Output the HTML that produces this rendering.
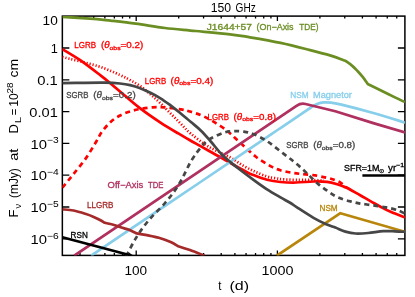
<!DOCTYPE html>
<html><head><meta charset="utf-8"><title>150 GHz</title>
<style>
html,body{margin:0;padding:0;background:#fff;}
body{width:415px;height:297px;overflow:hidden;}
svg{display:block;will-change:transform;}
text{font-family:"Liberation Sans",sans-serif;fill:#000;}
.lb{stroke-width:0.3px;paint-order:stroke;}
.tk{font-size:13px;word-spacing:2.5px;}
.sup{font-size:9px;}
.lb{font-size:8.6px;word-spacing:3.8px;}
.sub{font-size:6px;}
.c{fill:none;stroke-width:2.7;stroke-linejoin:round;stroke-linecap:butt;}
</style></head><body>
<svg width="415" height="297" viewBox="0 0 415 297">
<rect width="415" height="297" fill="#fff"/>
<defs><clipPath id="cp"><rect x="62.35" y="16.1" width="342.54999999999995" height="239.3"/></clipPath></defs>
<rect x="62.35" y="16.1" width="342.54999999999995" height="239.3" fill="none" stroke="#000" stroke-width="1.5"/>
<path d="M136.20,255.4 v-4.8 M136.20,16.1 v4.8 M277.40,255.4 v-4.8 M277.40,16.1 v4.8 M80.01,255.4 v-2.4 M80.01,16.1 v2.4 M93.69,255.4 v-2.4 M93.69,16.1 v2.4 M104.87,255.4 v-2.4 M104.87,16.1 v2.4 M114.33,255.4 v-2.4 M114.33,16.1 v2.4 M122.52,255.4 v-2.4 M122.52,16.1 v2.4 M129.74,255.4 v-2.4 M129.74,16.1 v2.4 M178.71,255.4 v-2.4 M178.71,16.1 v2.4 M203.57,255.4 v-2.4 M203.57,16.1 v2.4 M221.21,255.4 v-2.4 M221.21,16.1 v2.4 M234.89,255.4 v-2.4 M234.89,16.1 v2.4 M246.07,255.4 v-2.4 M246.07,16.1 v2.4 M255.53,255.4 v-2.4 M255.53,16.1 v2.4 M263.72,255.4 v-2.4 M263.72,16.1 v2.4 M270.94,255.4 v-2.4 M270.94,16.1 v2.4 M319.91,255.4 v-2.4 M319.91,16.1 v2.4 M344.77,255.4 v-2.4 M344.77,16.1 v2.4 M362.41,255.4 v-2.4 M362.41,16.1 v2.4 M376.09,255.4 v-2.4 M376.09,16.1 v2.4 M387.27,255.4 v-2.4 M387.27,16.1 v2.4 M396.73,255.4 v-2.4 M396.73,16.1 v2.4 M62.35,48.00 h7 M404.9,48.00 h-7 M62.35,79.80 h7 M404.9,79.80 h-7 M62.35,111.60 h7 M404.9,111.60 h-7 M62.35,143.40 h7 M404.9,143.40 h-7 M62.35,175.20 h7 M404.9,175.20 h-7 M62.35,207.00 h7 M404.9,207.00 h-7 M62.35,238.80 h7 M404.9,238.80 h-7 " stroke="#000" stroke-width="1.3" fill="none"/>
<g clip-path="url(#cp)">
<path class="c" d="M62.4,16.8 C67.0,17.1 82.0,18.0 90.0,18.6 C98.0,19.2 102.9,19.8 110.6,20.6 C118.2,21.5 126.8,22.5 135.9,23.7 C145.0,24.9 155.1,26.8 165.0,28.0 C174.9,29.2 184.8,29.9 195.6,31.0 C206.4,32.0 220.9,33.2 230.0,34.3 C239.1,35.3 241.6,35.9 250.0,37.3 C258.4,38.7 271.3,40.9 280.6,42.9 C289.9,44.9 297.7,46.9 305.9,49.0 C314.1,51.1 323.4,53.4 330.0,55.4 C336.6,57.4 342.8,59.9 345.4,60.8 C346.5,61.6 349.9,63.8 352.0,65.6 C354.1,67.3 355.8,69.3 357.7,71.3 C359.6,73.3 361.4,75.3 363.1,77.4 C364.8,79.5 366.9,82.9 367.7,84.0 C370.1,85.2 377.4,88.7 382.0,91.0 C386.6,93.3 391.7,95.8 395.5,97.6 C399.3,99.4 403.4,101.3 405.0,102.0" stroke="#6b8e23"/>
<path class="c" d="M62.4,49.2 C65.4,51.0 73.9,55.8 80.2,60.2 C86.5,64.6 95.4,71.5 100.5,75.4 C105.6,79.3 106.5,80.1 110.6,83.5 C114.7,86.9 120.1,91.6 125.0,95.8 C129.9,100.0 134.3,103.9 140.2,108.4 C146.1,112.9 154.1,118.4 160.5,122.6 C166.9,126.8 172.8,130.2 178.7,133.7 C184.5,137.2 188.6,139.4 195.6,143.4 C202.6,147.4 212.6,152.8 220.9,157.5 C229.2,162.2 239.8,168.4 245.2,171.3 C250.6,174.2 249.9,173.7 253.5,175.1 C257.1,176.5 262.5,178.7 267.0,179.8 C271.5,181.0 275.7,181.6 280.5,182.0 C285.3,182.4 290.5,182.6 296.0,182.5 C301.5,182.4 308.3,181.6 313.5,181.5 C318.7,181.4 322.9,181.4 327.0,181.9 C331.1,182.4 334.7,183.5 337.8,184.4 C340.9,185.3 343.8,186.8 345.9,187.6 C347.9,188.4 347.7,188.2 350.1,189.5 C352.5,190.8 356.8,193.3 360.2,195.2 C363.6,197.1 367.0,199.2 370.4,201.1 C373.8,203.0 377.1,205.0 380.5,206.8 C383.9,208.6 386.5,210.0 390.6,211.8 C394.7,213.6 402.6,216.5 405.0,217.4" stroke="#ff0000" stroke-width="3.2"/>
<path class="c" d="M62.4,57.0 C68.3,58.5 88.4,63.2 98.0,66.2 C107.6,69.2 114.7,72.7 120.0,75.0 C125.3,77.3 126.7,78.2 130.1,80.1 C133.5,81.9 136.8,83.8 140.2,86.1 C143.6,88.4 147.0,91.3 150.4,94.2 C153.8,97.1 157.1,100.1 160.5,103.3 C163.9,106.5 167.2,110.1 170.6,113.5 C174.0,116.9 177.3,120.2 180.7,123.6 C184.1,127.0 186.3,129.9 190.9,133.7 C195.5,137.5 201.8,142.6 208.3,146.5 C214.8,150.4 224.3,154.2 230.0,157.3 C235.7,160.5 238.5,163.0 242.7,165.4 C246.9,167.8 251.3,170.0 255.3,171.8 C259.3,173.7 263.6,175.4 266.9,176.5 C270.2,177.6 272.5,177.7 275.3,178.2 C278.1,178.7 279.6,179.1 283.7,179.4 C287.8,179.7 295.1,179.8 300.0,179.9 C304.9,180.0 309.0,179.9 313.0,180.0 C317.0,180.1 322.2,180.6 324.0,180.7" stroke="#ff0000" stroke-dasharray="1.2,1.9" stroke-width="3.2"/>
<path class="c" d="M62.4,187.7 C64.1,185.6 68.9,179.8 72.7,175.0 C76.5,170.2 81.5,164.4 85.3,159.1 C89.1,153.8 92.7,147.5 95.4,143.0 C98.2,138.5 99.3,135.5 101.8,132.0 C104.3,128.5 107.6,124.7 110.6,121.9 C113.6,119.2 116.8,117.2 120.0,115.5 C123.2,113.8 126.7,112.5 130.1,111.4 C133.5,110.3 136.5,109.7 140.2,109.0 C143.9,108.3 148.3,107.7 152.4,107.4 C156.5,107.1 159.8,107.1 164.5,107.4 C169.2,107.7 176.3,108.7 180.7,109.4 C185.1,110.1 187.0,110.6 190.9,111.8 C194.8,113.0 199.1,114.2 204.0,116.5 C208.9,118.8 216.1,123.2 220.2,125.8 C224.3,128.4 226.1,130.0 228.5,132.0 C230.9,134.0 232.2,135.4 234.6,137.6 C237.0,139.8 240.1,142.7 242.7,145.0 C245.3,147.3 247.8,149.7 250.0,151.7 C252.2,153.7 253.7,155.1 255.9,156.8 C258.1,158.5 260.8,160.2 263.5,161.9 C266.2,163.6 269.1,165.5 271.9,166.9 C274.7,168.3 277.3,169.4 280.4,170.3 C283.5,171.2 287.1,171.9 290.5,172.5 C293.9,173.1 296.8,173.5 300.6,173.9 C304.4,174.3 309.1,174.5 313.5,175.2 C317.9,175.8 323.4,177.0 327.0,177.8 C330.6,178.6 332.9,179.3 335.1,180.1 C337.4,180.9 338.7,181.3 340.5,182.5 C342.3,183.7 344.1,185.7 346.0,187.0 C347.9,188.3 351.0,190.0 352.0,190.6" stroke="#ff0000" stroke-dasharray="5,4" stroke-width="3.2"/>
<path class="c" d="M276.8,255.7 L340.4,213.2 L405,231.8" stroke="#b8860b"/>
<path class="c" d="M91.1,255.7 C103.4,247.4 138.5,223.8 165.0,205.9 C191.5,188.1 231.4,161.2 250.0,148.6 C268.6,136.0 268.5,136.1 276.8,130.5 C285.1,124.9 294.3,118.7 300.0,114.9 C305.7,111.1 308.2,109.3 311.0,107.5 C313.8,105.7 314.9,104.8 317.0,104.0 C319.1,103.2 321.3,102.6 323.6,102.4 C325.9,102.2 328.2,102.4 331.0,102.7 C333.8,103.0 333.3,102.7 340.4,104.4 C347.4,106.1 362.5,110.0 373.3,113.0 C384.1,116.0 399.7,121.0 405.0,122.6" stroke="#87ceeb"/>
<path class="c" d="M74.2,255.7 L296.5,105.8 Q300.8,102.9 305.5,104.0 L335.3,111.3 L373.3,123.1 L405,132.5" stroke="#b03060"/>
<path class="c" d="M62.4,83.2 C66.2,83.1 77.9,82.9 85.0,82.8 C92.1,82.7 99.2,82.6 105.0,82.7 C110.8,82.8 115.8,83.1 120.0,83.5 C124.2,83.9 126.7,84.3 130.1,85.1 C133.5,85.9 136.8,86.9 140.2,88.2 C143.6,89.5 147.0,91.1 150.4,92.8 C153.8,94.5 157.1,96.2 160.5,98.3 C163.9,100.4 167.2,102.9 170.6,105.4 C174.0,107.9 177.3,110.7 180.7,113.5 C184.1,116.3 187.5,119.1 190.9,122.0 C194.3,124.9 197.7,127.4 201.0,130.7 C204.3,133.9 207.5,137.7 210.8,141.5 C214.1,145.3 217.7,150.1 220.9,153.5 C224.1,156.9 226.8,159.2 230.0,161.9 C233.2,164.6 236.1,166.7 240.0,169.7 C243.9,172.7 249.0,176.5 253.5,179.8 C258.0,183.1 262.5,186.4 267.0,189.3 C271.5,192.2 276.4,195.0 280.5,197.4 C284.6,199.8 288.6,201.8 291.3,203.5 C294.1,205.2 293.3,205.0 297.0,207.4 C300.7,209.8 308.6,215.0 313.5,217.8 C318.4,220.6 322.6,222.6 326.2,224.2 C329.8,225.8 332.1,226.4 335.3,227.6 C338.5,228.8 342.0,230.6 345.4,231.6 C348.8,232.6 351.7,233.3 355.5,233.5 C359.3,233.7 363.6,233.4 368.2,233.0 C372.8,232.6 378.9,231.5 383.4,231.2 C387.9,230.9 391.4,231.2 395.0,231.3 C398.6,231.4 403.3,231.7 405.0,231.8" stroke="#464646"/>
<path class="c" d="M126.2,256.3 C127.8,253.3 132.2,244.1 135.9,238.1 C139.6,232.1 143.8,226.2 148.6,220.4 C153.4,214.6 159.9,209.0 165.0,203.0 C170.1,197.0 174.5,191.5 178.9,184.4 C183.3,177.3 187.7,166.7 191.5,160.4 C195.3,154.1 198.8,149.9 201.5,146.6 C204.2,143.3 205.2,142.2 207.5,140.5 C209.8,138.8 212.2,137.6 215.2,136.2 C218.2,134.8 222.2,133.0 225.3,132.2 C228.4,131.4 230.6,131.3 233.7,131.2 C236.8,131.1 240.4,131.1 243.8,131.6 C247.2,132.1 250.1,132.7 254.0,134.3 C257.9,135.9 263.0,138.5 267.4,141.4 C271.8,144.3 276.3,148.2 280.6,151.5 C284.9,154.8 289.4,158.0 293.3,161.2 C297.2,164.3 301.1,167.8 304.0,170.4 C306.9,173.1 308.3,174.7 310.8,177.1 C313.3,179.5 316.2,182.3 318.9,184.6 C321.6,186.8 324.3,188.7 327.0,190.6 C329.7,192.5 332.4,194.5 335.1,196.0 C337.8,197.5 340.3,198.4 343.2,199.4 C346.1,200.4 349.8,201.2 352.6,201.9 C355.4,202.6 357.2,203.1 360.2,203.6 C363.2,204.1 367.0,204.5 370.4,205.0 C373.8,205.5 377.1,205.9 380.5,206.5 C383.9,207.1 387.5,207.6 390.6,208.3 C393.7,209.0 396.6,209.8 399.0,210.7 C401.4,211.6 404.0,213.2 405.0,213.7" stroke="#464646" stroke-dasharray="5,4"/>
<path class="c" d="M62.4,237.2 L132,255.7" stroke="#000"/>
<path class="c" d="M62.4,209.3 C64.2,209.5 69.7,209.8 73.5,210.5 C77.3,211.2 81.9,212.7 85.3,213.8 C88.7,214.9 91.2,215.8 93.7,216.9 C96.2,218.0 98.7,219.2 100.5,220.2 C102.3,221.2 104.0,222.4 104.7,222.8 C106.2,223.2 111.0,224.2 114.0,225.0 C117.0,225.8 120.0,227.0 122.4,227.8 C124.8,228.6 126.1,228.7 128.4,229.6 C130.7,230.5 134.7,232.6 136.0,233.2 C137.6,233.5 141.5,234.1 145.3,234.9 C149.1,235.7 154.6,236.6 158.8,237.8 C163.0,239.0 167.4,240.6 170.6,242.0 C173.8,243.4 176.9,245.5 178.2,246.2 C180.2,246.8 185.6,248.5 190.0,250.1 C194.4,251.7 202.1,254.7 204.5,255.6" stroke="#a52a2a"/>
<path d="M362.4,175.5 H404.9" stroke="#000" stroke-width="2.7" fill="none"/>
</g>
<text x="42.6" y="25.4" class="tk" style="" textLength="15.2" lengthAdjust="spacingAndGlyphs">10</text>
<text x="50.7" y="53.2" class="tk" style="" textLength="7.1" lengthAdjust="spacingAndGlyphs">1</text>
<text x="37.2" y="85.2" class="tk" style="" textLength="20.6" lengthAdjust="spacingAndGlyphs">0.1</text>
<text x="29.3" y="117.0" class="tk" style="" textLength="28.5" lengthAdjust="spacingAndGlyphs">0.01</text>
<text x="30.5" y="148.5" class="tk" style="" textLength="28.2" lengthAdjust="spacingAndGlyphs">10<tspan class="sup" dy="-5.1">−3</tspan></text>
<text x="30.5" y="180.3" class="tk" style="" textLength="28.2" lengthAdjust="spacingAndGlyphs">10<tspan class="sup" dy="-5.1">−4</tspan></text>
<text x="30.5" y="212.1" class="tk" style="" textLength="28.2" lengthAdjust="spacingAndGlyphs">10<tspan class="sup" dy="-5.1">−5</tspan></text>
<text x="30.5" y="243.9" class="tk" style="" textLength="28.2" lengthAdjust="spacingAndGlyphs">10<tspan class="sup" dy="-5.1">−6</tspan></text>
<text x="124.4" y="274.8" class="tk" style="" textLength="22.7" lengthAdjust="spacingAndGlyphs">100</text>
<text x="261.4" y="274.8" class="tk" style="" textLength="32.0" lengthAdjust="spacingAndGlyphs">1000</text>
<text x="210.7" y="12.2" class="tk" style="font-size:12px" textLength="20.4" lengthAdjust="spacingAndGlyphs">150</text>
<text x="235.6" y="12.2" class="tk" style="font-size:12px" textLength="20.2" lengthAdjust="spacingAndGlyphs">GHz</text>
<text x="218.3" y="290.4" class="tk" style="" textLength="3.2" lengthAdjust="spacingAndGlyphs">t</text>
<text x="229.4" y="290.4" class="tk" style="" textLength="19.6" lengthAdjust="spacingAndGlyphs">(d)</text>
<text x="74.3" y="47.9" class="lb" style="fill:#ff0000;stroke:#ff0000" textLength="21.8" lengthAdjust="spacingAndGlyphs">LGRB</text>
<text x="100.9" y="47.9" class="lb" style="fill:#ff0000;stroke:#ff0000" textLength="42.4" lengthAdjust="spacingAndGlyphs">(<tspan font-style="italic">θ</tspan><tspan class="sub" dy="1.6">obs</tspan><tspan dy="-1.6">=0.2)</tspan></text>
<text x="144.8" y="83.5" class="lb" style="fill:#ff0000;stroke:#ff0000" textLength="21.3" lengthAdjust="spacingAndGlyphs">LGRB</text>
<text x="170.6" y="83.5" class="lb" style="fill:#ff0000;stroke:#ff0000" textLength="42.7" lengthAdjust="spacingAndGlyphs">(<tspan font-style="italic">θ</tspan><tspan class="sub" dy="1.6">obs</tspan><tspan dy="-1.6">=0.4)</tspan></text>
<text x="207.6" y="119.5" class="lb" style="fill:#ff0000;stroke:#ff0000" textLength="21.4" lengthAdjust="spacingAndGlyphs">LGRB</text>
<text x="233.6" y="119.5" class="lb" style="fill:#ff0000;stroke:#ff0000" textLength="42.4" lengthAdjust="spacingAndGlyphs">(<tspan font-style="italic">θ</tspan><tspan class="sub" dy="1.6">obs</tspan><tspan dy="-1.6">=0.8)</tspan></text>
<text x="66.3" y="97.9" class="lb" style="fill:#464646;stroke:#464646" textLength="22.2" lengthAdjust="spacingAndGlyphs">SGRB</text>
<text x="93.3" y="97.9" class="lb" style="fill:#464646;stroke:#464646" textLength="42.4" lengthAdjust="spacingAndGlyphs">(<tspan font-style="italic">θ</tspan><tspan class="sub" dy="1.6">obs</tspan><tspan dy="-1.6">=0.2)</tspan></text>
<text x="286.2" y="147.9" class="lb" style="fill:#464646;stroke:#464646" textLength="22.2" lengthAdjust="spacingAndGlyphs">SGRB</text>
<text x="313.2" y="147.9" class="lb" style="fill:#464646;stroke:#464646" textLength="42.1" lengthAdjust="spacingAndGlyphs">(<tspan font-style="italic">θ</tspan><tspan class="sub" dy="1.6">obs</tspan><tspan dy="-1.6">=0.8)</tspan></text>
<text x="206.7" y="30.1" class="lb" style="fill:#6b8e23;stroke:#6b8e23" textLength="45.3" lengthAdjust="spacingAndGlyphs">J1644+57</text>
<text x="256.5" y="30.1" class="lb" style="fill:#6b8e23;stroke:#6b8e23" textLength="37.1" lengthAdjust="spacingAndGlyphs">(On−Axis</text>
<text x="299.3" y="30.1" class="lb" style="fill:#6b8e23;stroke:#6b8e23" textLength="19.2" lengthAdjust="spacingAndGlyphs">TDE)</text>
<text x="290.2" y="97.9" class="lb" style="fill:#87ceeb;stroke:#87ceeb" textLength="18.4" lengthAdjust="spacingAndGlyphs">NSM</text>
<text x="313.0" y="97.9" class="lb" style="fill:#87ceeb;stroke:#87ceeb" textLength="38.9" lengthAdjust="spacingAndGlyphs">Magnetor</text>
<text x="107.6" y="187.5" class="lb" style="fill:#b03060;stroke:#b03060" textLength="35.7" lengthAdjust="spacingAndGlyphs">Off−Axis</text>
<text x="148.0" y="187.5" class="lb" style="fill:#b03060;stroke:#b03060" textLength="15.5" lengthAdjust="spacingAndGlyphs">TDE</text>
<text x="87.0" y="208.2" class="lb" style="fill:#a52a2a;stroke:#a52a2a" textLength="26.5" lengthAdjust="spacingAndGlyphs">LLGRB</text>
<text x="70.6" y="237.5" class="lb" style="fill:#000;stroke:#000" textLength="17.2" lengthAdjust="spacingAndGlyphs">RSN</text>
<text x="319.5" y="211.0" class="lb" style="fill:#b8860b;stroke:#b8860b" textLength="18.2" lengthAdjust="spacingAndGlyphs">NSM</text>
<text x="344.0" y="171.2" class="lb" style="fill:#000;stroke:#000" textLength="40.6" lengthAdjust="spacingAndGlyphs">SFR=1M<tspan class="sub" dy="1.8">⊙</tspan></text>
<text x="388.1" y="171.2" class="lb" style="fill:#000;stroke:#000" textLength="16.1" lengthAdjust="spacingAndGlyphs">yr<tspan class="sub" dy="-4.2">−1</tspan></text>

<g transform="translate(18.2,0) rotate(-90)">
<text x="-217.4" y="0" class="tk">F</text>
<text x="-208.6" y="2.8" class="sup" textLength="4.6" lengthAdjust="spacingAndGlyphs">ν</text>
<text x="-198.0" y="0" class="tk" textLength="29.8" lengthAdjust="spacingAndGlyphs">(mJy)</text>
<text x="-160.8" y="0" class="tk" textLength="12.2" lengthAdjust="spacingAndGlyphs">at</text>
<text x="-133.4" y="0" class="tk">D</text>
<text x="-123.2" y="2.8" class="sup" textLength="6.4" lengthAdjust="spacingAndGlyphs">L</text>
<text x="-115.2" y="0" class="tk" textLength="6.6" lengthAdjust="spacingAndGlyphs">=</text>
<text x="-106.8" y="0" class="tk" textLength="13.6" lengthAdjust="spacingAndGlyphs">10</text>
<text x="-93.4" y="-5.2" class="sup" textLength="11.0" lengthAdjust="spacingAndGlyphs">28</text>
<text x="-77.4" y="0" class="tk" textLength="18.6" lengthAdjust="spacingAndGlyphs">cm</text>
</g>
</svg>
</body></html>
